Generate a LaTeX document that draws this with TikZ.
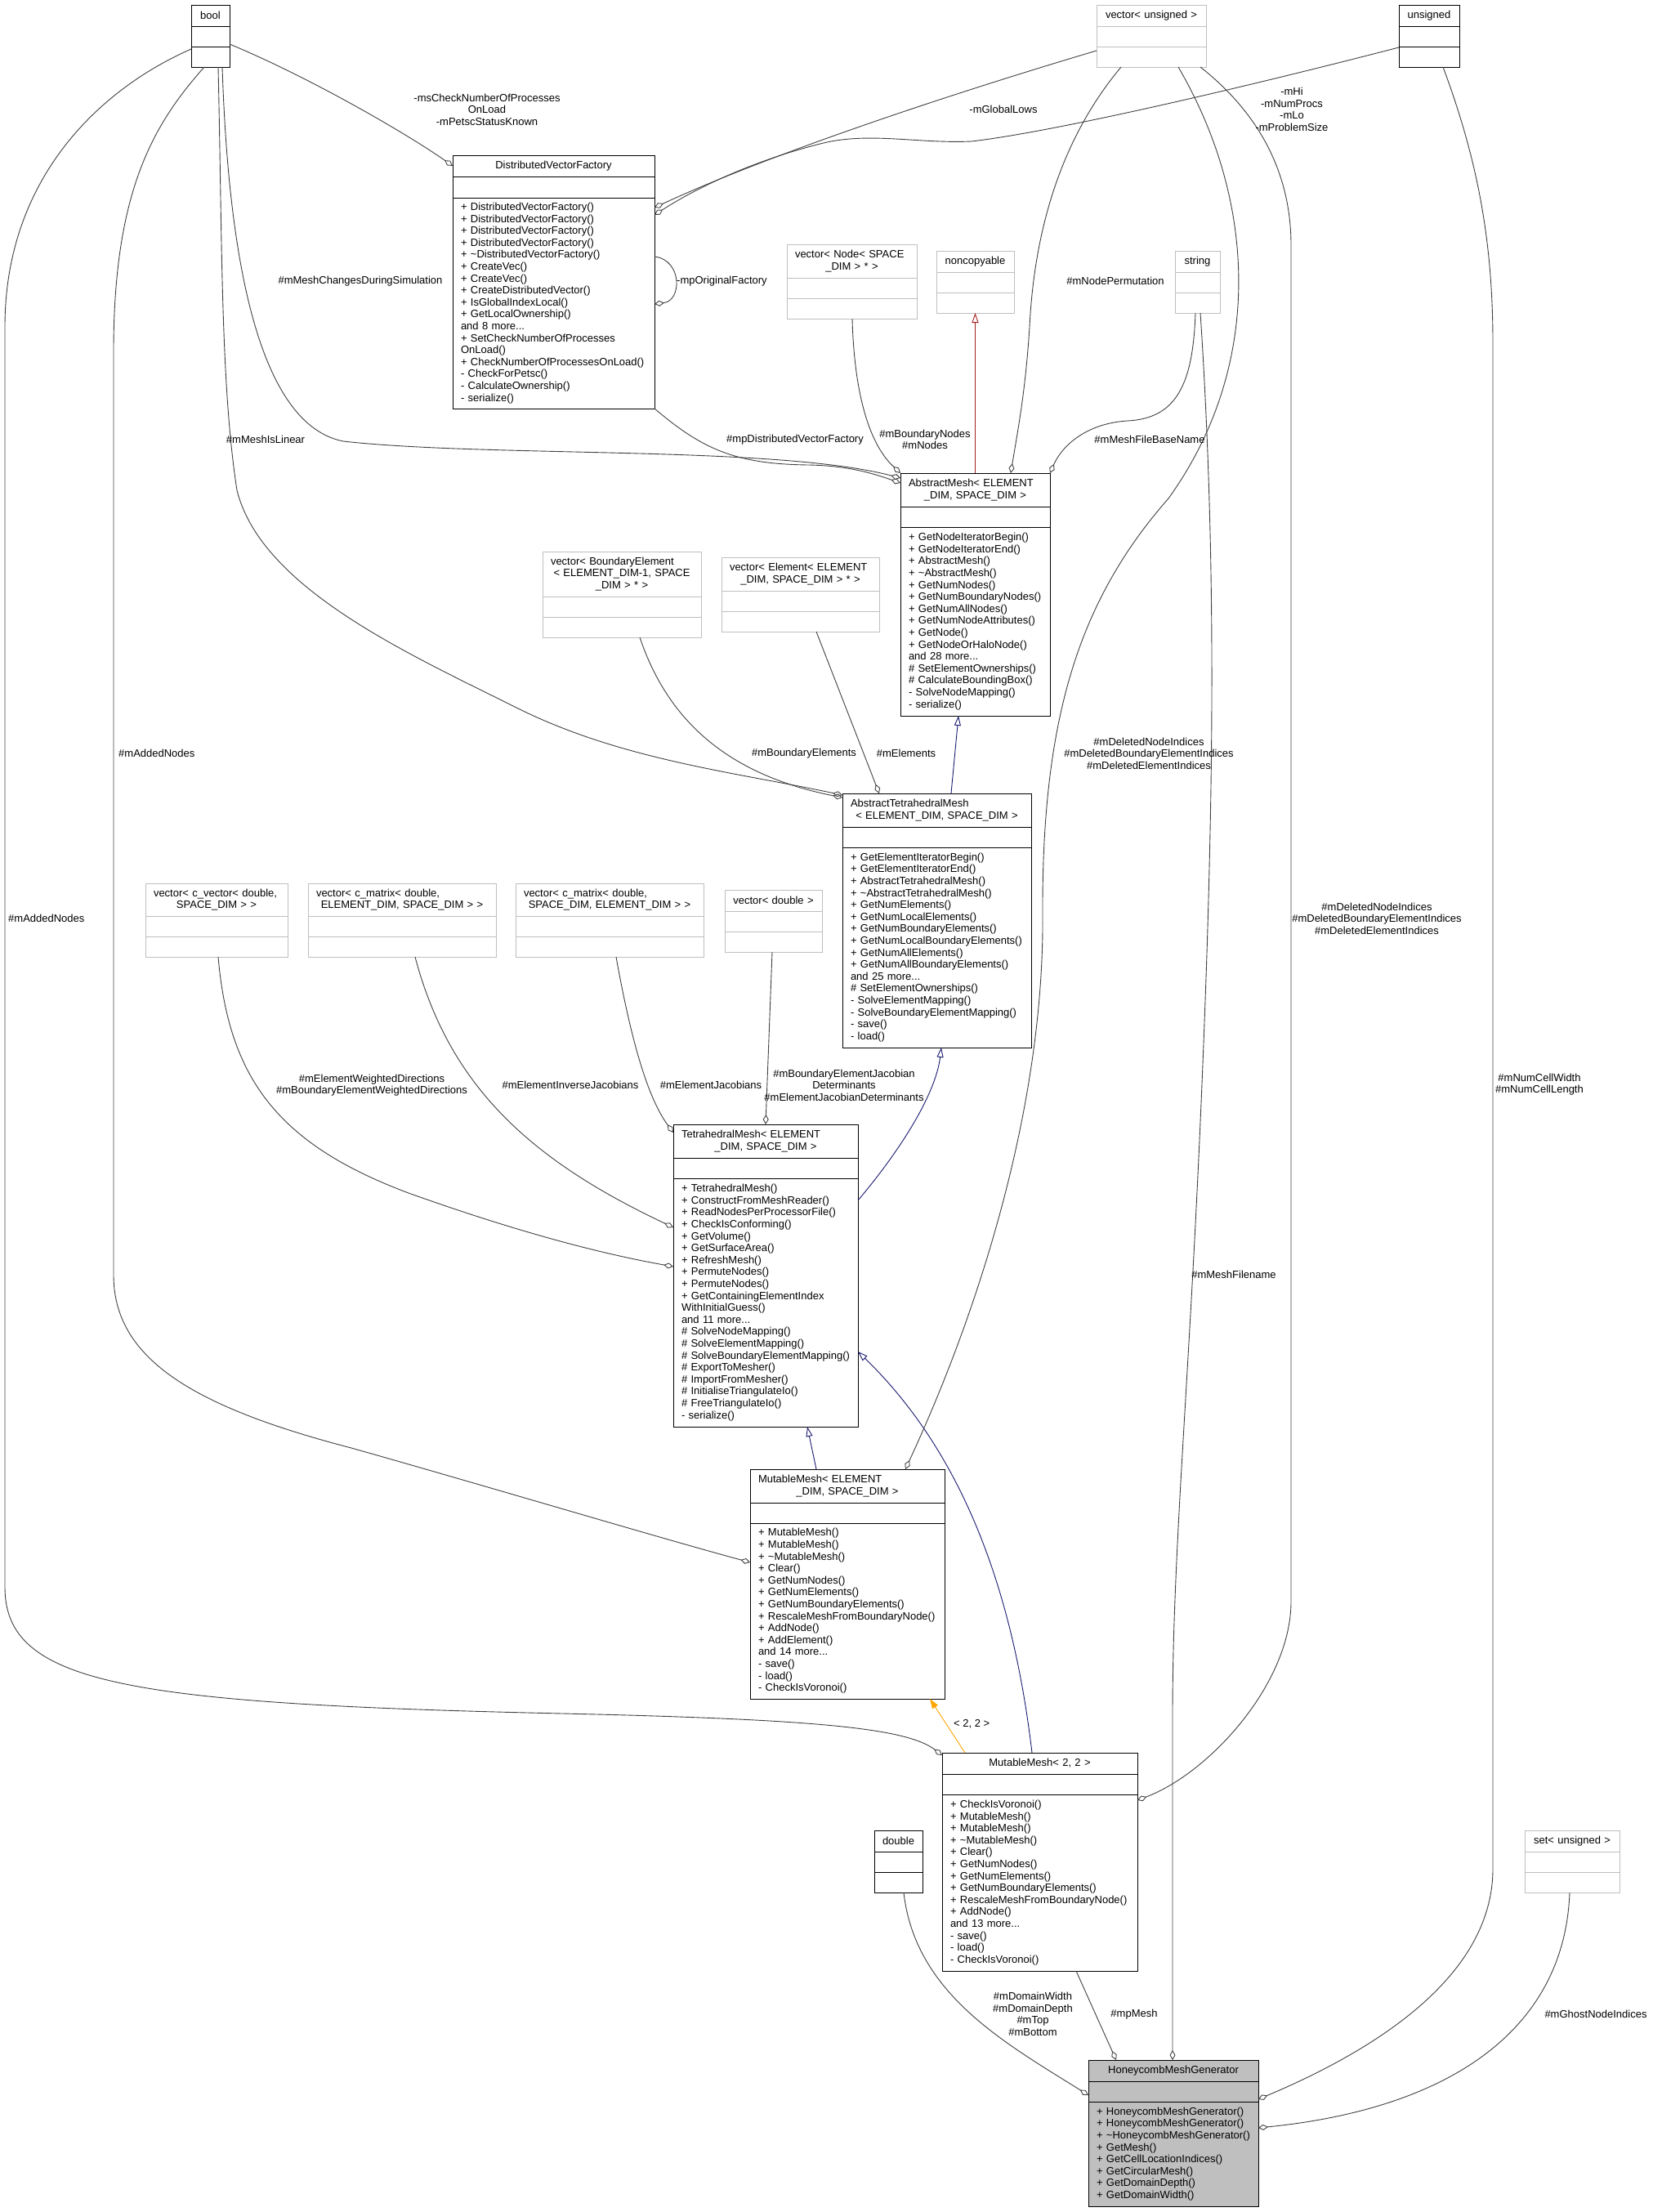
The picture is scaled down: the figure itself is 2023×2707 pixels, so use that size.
\documentclass[tikz,border=0pt]{standalone}
\usepackage{fontspec}
\setmainfont{Liberation Sans}
\usetikzlibrary{arrows.meta,positioning,calc}
\definecolor{clsgray}{RGB}{191,191,191}
\definecolor{edgegray}{RGB}{64,64,64}
\definecolor{midnightblue}{RGB}{25,25,112}
\definecolor{firebrick}{RGB}{165,30,30}
\definecolor{tmplorange}{RGB}{255,165,0}
\newcommand{\doxfont}{\fontsize{13}{14.6}\selectfont}
\newcommand{\firstline}[1]{\makebox[\hsize][l]{#1}}

\begin{document}
\begin{tikzpicture}[x=1pt, y=-1pt,
  cls/.style={draw=black, line width=1pt, inner xsep=10pt, inner ysep=0pt, outer sep=0pt, font=\doxfont, align=center},
  ext/.style={cls, draw=clsgray},
  mbr/.style={align=left},
  assoc/.style={draw=edgegray, line width=0.9pt, -{Diamond[open,length=12pt,width=7pt]}},
  pub/.style={draw=midnightblue, line width=0.9pt, -{Triangle[open,length=12pt,width=8pt]}},
  priv/.style={draw=firebrick, line width=0.9pt, -{Triangle[open,length=12pt,width=8pt]}},
  tmpl/.style={draw=tmplorange, line width=0.9pt, -{Triangle[length=12pt,width=8pt]}},
  lbl/.style={font=\doxfont, align=center, inner sep=0pt}]
  \useasboundingbox (0,0) rectangle (2023,2707);

  % plain types
  \node[cls, text width=27pt, minimum height=26pt, anchor=north west] (bool) at (234,6) {bool};
  \node[cls, text width=27pt, minimum height=25pt, below=0pt of bool] (bool-a) {};
  \node[cls, text width=27pt, minimum height=25pt, below=0pt of bool-a] (bool-m) {};
  \node[ext, text width=114pt, minimum height=26pt, anchor=north west] (vecu) at (1342,6) {vector< unsigned >};
  \node[ext, text width=114pt, minimum height=25pt, below=0pt of vecu] (vecu-a) {};
  \node[ext, text width=114pt, minimum height=25pt, below=0pt of vecu-a] (vecu-m) {};
  \node[cls, text width=54pt, minimum height=26pt, anchor=north west] (uns) at (1712,6) {unsigned};
  \node[cls, text width=54pt, minimum height=25pt, below=0pt of uns] (uns-a) {};
  \node[cls, text width=54pt, minimum height=25pt, below=0pt of uns-a] (uns-m) {};

  % DistributedVectorFactory
  \node[cls, text width=227pt, minimum height=26pt, anchor=north west] (dvf) at (554,190) {DistributedVectorFactory};
  \node[cls, text width=227pt, minimum height=26pt, below=0pt of dvf] (dvf-a) {};
  \node[cls, mbr, text width=227pt, minimum height=258pt, below=0pt of dvf-a] (dvf-m) {+~DistributedVectorFactory()\\+~DistributedVectorFactory()\\+~DistributedVectorFactory()\\+~DistributedVectorFactory()\\+~\textasciitilde DistributedVectorFactory()\\+~CreateVec()\\+~CreateVec()\\+~CreateDistributedVector()\\+~IsGlobalIndexLocal()\\+~GetLocalOwnership()\\and 8 more...\\+~SetCheckNumberOfProcesses\\OnLoad()\\+~CheckNumberOfProcessesOnLoad()\\-~CheckForPetsc()\\-~CalculateOwnership()\\-~serialize()};

  \node[ext, text width=139pt, minimum height=41pt, anchor=north west] (vecn) at (963,299) {\firstline{vector< Node< SPACE}\\\_DIM > * >};
  \node[ext, text width=139pt, minimum height=25pt, below=0pt of vecn] (vecn-a) {};
  \node[ext, text width=139pt, minimum height=25pt, below=0pt of vecn-a] (vecn-m) {};
  \node[ext, text width=75pt, minimum height=26pt, anchor=north west] (nonc) at (1146,307) {noncopyable};
  \node[ext, text width=75pt, minimum height=25pt, below=0pt of nonc] (nonc-a) {};
  \node[ext, text width=75pt, minimum height=25pt, below=0pt of nonc-a] (nonc-m) {};
  \node[ext, text width=35pt, minimum height=26pt, anchor=north west] (str) at (1438,307) {string};
  \node[ext, text width=35pt, minimum height=25pt, below=0pt of str] (str-a) {};
  \node[ext, text width=35pt, minimum height=25pt, below=0pt of str-a] (str-m) {};

  % AbstractMesh
  \node[cls, text width=163pt, minimum height=41pt, anchor=north west] (am) at (1102,579) {\firstline{AbstractMesh< ELEMENT}\\\_DIM, SPACE\_DIM >};
  \node[cls, text width=163pt, minimum height=25pt, below=0pt of am] (am-a) {};
  \node[cls, mbr, text width=163pt, minimum height=231pt, below=0pt of am-a] (am-m) {+~GetNodeIteratorBegin()\\+~GetNodeIteratorEnd()\\+~AbstractMesh()\\+~\textasciitilde AbstractMesh()\\+~GetNumNodes()\\+~GetNumBoundaryNodes()\\+~GetNumAllNodes()\\+~GetNumNodeAttributes()\\+~GetNode()\\+~GetNodeOrHaloNode()\\and 28 more...\\\#~SetElementOwnerships()\\\#~CalculateBoundingBox()\\-~SolveNodeMapping()\\-~serialize()};

  \node[ext, text width=174pt, minimum height=55pt, anchor=north west] (vecbe) at (664,675) {\firstline{vector< BoundaryElement}\\< ELEMENT\_DIM-1, SPACE\\\_DIM > * >};
  \node[ext, text width=174pt, minimum height=25pt, below=0pt of vecbe] (vecbe-a) {};
  \node[ext, text width=174pt, minimum height=25pt, below=0pt of vecbe-a] (vecbe-m) {};
  \node[ext, text width=173pt, minimum height=41pt, anchor=north west] (vece) at (883,682) {\firstline{vector< Element< ELEMENT}\\\_DIM, SPACE\_DIM > * >};
  \node[ext, text width=173pt, minimum height=25pt, below=0pt of vece] (vece-a) {};
  \node[ext, text width=173pt, minimum height=25pt, below=0pt of vece-a] (vece-m) {};

  % AbstractTetrahedralMesh
  \node[cls, text width=211pt, minimum height=41pt, anchor=north west] (atm) at (1031,971) {\firstline{AbstractTetrahedralMesh}\\< ELEMENT\_DIM, SPACE\_DIM >};
  \node[cls, text width=211pt, minimum height=25pt, below=0pt of atm] (atm-a) {};
  \node[cls, mbr, text width=211pt, minimum height=245pt, below=0pt of atm-a] (atm-m) {+~GetElementIteratorBegin()\\+~GetElementIteratorEnd()\\+~AbstractTetrahedralMesh()\\+~\textasciitilde AbstractTetrahedralMesh()\\+~GetNumElements()\\+~GetNumLocalElements()\\+~GetNumBoundaryElements()\\+~GetNumLocalBoundaryElements()\\+~GetNumAllElements()\\+~GetNumAllBoundaryElements()\\and 25 more...\\\#~SetElementOwnerships()\\-~SolveElementMapping()\\-~SolveBoundaryElementMapping()\\-~save()\\-~load()};

  \node[ext, text width=154pt, minimum height=40pt, anchor=north west] (veccv) at (178,1081) {\firstline{vector< c\_vector< double,}\\SPACE\_DIM > >};
  \node[ext, text width=154pt, minimum height=25pt, below=0pt of veccv] (veccv-a) {};
  \node[ext, text width=154pt, minimum height=25pt, below=0pt of veccv-a] (veccv-m) {};
  \node[ext, text width=210pt, minimum height=40pt, anchor=north west] (vecmes) at (377,1081) {\firstline{vector< c\_matrix< double,}\\ELEMENT\_DIM, SPACE\_DIM > >};
  \node[ext, text width=210pt, minimum height=25pt, below=0pt of vecmes] (vecmes-a) {};
  \node[ext, text width=210pt, minimum height=25pt, below=0pt of vecmes-a] (vecmes-m) {};
  \node[ext, text width=210pt, minimum height=40pt, anchor=north west] (vecmse) at (631,1081) {\firstline{vector< c\_matrix< double,}\\SPACE\_DIM, ELEMENT\_DIM > >};
  \node[ext, text width=210pt, minimum height=25pt, below=0pt of vecmse] (vecmse-a) {};
  \node[ext, text width=210pt, minimum height=25pt, below=0pt of vecmse-a] (vecmse-m) {};
  \node[ext, text width=99pt, minimum height=26pt, anchor=north west] (vecd) at (887,1089) {vector< double >};
  \node[ext, text width=99pt, minimum height=25pt, below=0pt of vecd] (vecd-a) {};
  \node[ext, text width=99pt, minimum height=25pt, below=0pt of vecd-a] (vecd-m) {};

  % TetrahedralMesh
  \node[cls, text width=206pt, minimum height=41pt, anchor=north west] (tm) at (824,1376) {\firstline{TetrahedralMesh< ELEMENT}\\\_DIM, SPACE\_DIM >};
  \node[cls, text width=206pt, minimum height=25pt, below=0pt of tm] (tm-a) {};
  \node[cls, mbr, text width=206pt, minimum height=304pt, below=0pt of tm-a] (tm-m) {+~TetrahedralMesh()\\+~ConstructFromMeshReader()\\+~ReadNodesPerProcessorFile()\\+~CheckIsConforming()\\+~GetVolume()\\+~GetSurfaceArea()\\+~RefreshMesh()\\+~PermuteNodes()\\+~PermuteNodes()\\+~GetContainingElementIndex\\WithInitialGuess()\\and 11 more...\\\#~SolveNodeMapping()\\\#~SolveElementMapping()\\\#~SolveBoundaryElementMapping()\\\#~ExportToMesher()\\\#~ImportFromMesher()\\\#~InitialiseTriangulateIo()\\\#~FreeTriangulateIo()\\-~serialize()};

  % MutableMesh
  \node[cls, text width=218pt, minimum height=41pt, anchor=north west] (mm) at (918,1798) {\firstline{MutableMesh< ELEMENT}\\\_DIM, SPACE\_DIM >};
  \node[cls, text width=218pt, minimum height=25pt, below=0pt of mm] (mm-a) {};
  \node[cls, mbr, text width=218pt, minimum height=215pt, below=0pt of mm-a] (mm-m) {+~MutableMesh()\\+~MutableMesh()\\+~\textasciitilde MutableMesh()\\+~Clear()\\+~GetNumNodes()\\+~GetNumElements()\\+~GetNumBoundaryElements()\\+~RescaleMeshFromBoundaryNode()\\+~AddNode()\\+~AddElement()\\and 14 more...\\-~save()\\-~load()\\-~CheckIsVoronoi()};

  \node[cls, text width=219pt, minimum height=26pt, anchor=north west] (mm22) at (1153,2145) {MutableMesh< 2, 2 >};
  \node[cls, text width=219pt, minimum height=25pt, below=0pt of mm22] (mm22-a) {};
  \node[cls, mbr, text width=219pt, minimum height=216pt, below=0pt of mm22-a] (mm22-m) {+~CheckIsVoronoi()\\+~MutableMesh()\\+~MutableMesh()\\+~\textasciitilde MutableMesh()\\+~Clear()\\+~GetNumNodes()\\+~GetNumElements()\\+~GetNumBoundaryElements()\\+~RescaleMeshFromBoundaryNode()\\+~AddNode()\\and 13 more...\\-~save()\\-~load()\\-~CheckIsVoronoi()};

  \node[cls, text width=39pt, minimum height=26pt, anchor=north west] (dbl) at (1070,2240) {double};
  \node[cls, text width=39pt, minimum height=25pt, below=0pt of dbl] (dbl-a) {};
  \node[cls, text width=39pt, minimum height=25pt, below=0pt of dbl-a] (dbl-m) {};
  \node[ext, text width=96pt, minimum height=26pt, anchor=north west] (setu) at (1866,2240) {set< unsigned >};
  \node[ext, text width=96pt, minimum height=25pt, below=0pt of setu] (setu-a) {};
  \node[ext, text width=96pt, minimum height=25pt, below=0pt of setu-a] (setu-m) {};

  % HoneycombMeshGenerator
  \node[cls, fill=clsgray, text width=188pt, minimum height=26pt, anchor=north west] (hmg) at (1332,2521) {HoneycombMeshGenerator};
  \node[cls, fill=clsgray, text width=188pt, minimum height=25pt, below=0pt of hmg] (hmg-a) {};
  \node[cls, fill=clsgray, mbr, text width=188pt, minimum height=128pt, below=0pt of hmg-a] (hmg-m) {+~HoneycombMeshGenerator()\\+~HoneycombMeshGenerator()\\+~\textasciitilde HoneycombMeshGenerator()\\+~GetMesh()\\+~GetCellLocationIndices()\\+~GetCircularMesh()\\+~GetDomainDepth()\\+~GetDomainWidth()};

  % member links
  \draw[assoc] ($(bool-a.south east)+(0,-3)$) .. controls (380,95) and (500,165) .. (dvf.west);
  \draw[assoc] ($(vecu-m.north west)+(0,5)$) .. controls (1180,110) and (950,185) .. ($(dvf-m.north east)+(0,12)$);
  \draw[assoc] ($(uns-m.north west)+(0,1)$) .. controls (1550,100) and (1300,160) .. (1189,173) .. controls (1120,176) and (1060,160) .. (1000,177) .. controls (930,195) and (860,225) .. ($(dvf-m.north east)+(0,21)$);
  \draw[assoc] ($(dvf-m.north east)+(0,72)$) .. controls (835,318) and (835,368) .. ($(dvf-m.north east)+(0,130)$);
  \draw[assoc] ($(bool-m.south west)+(38,0)$) .. controls (280,330) and (320,520) .. (420,540) .. controls (600,560) and (950,545) .. ($(am.north west)+(0,6)$);
  \draw[assoc] (dvf-m.south east) .. controls (860,550) and (900,568) .. (990,569) .. controls (1040,570) and (1070,580) .. ($(am.north west)+(0,12)$);
  \draw[assoc] ($(vecn-m.south west)+(80,0)$) .. controls (1045,470) and (1060,540) .. (am.north west);
  \draw[assoc] ($(vecu-m.south west)+(30,0)$) .. controls (1290,180) and (1265,300) .. (1260,400) .. controls (1255,480) and (1245,530) .. ($(am.north west)+(135,0)$);
  \draw[assoc] ($(str-m.south west)+(25,0)$) .. controls (1460,470) and (1440,512) .. (1380,515) .. controls (1330,518) and (1300,545) .. (am.north east);
  \draw[assoc] ($(vecu-m.south west)+(100,0)$) .. controls (1540,250) and (1545,450) .. (1430,610) .. controls (1320,735) and (1275,880) .. (1276,1119) .. controls (1278,1350) and (1200,1600) .. ($(mm.north east)+(-48,0)$);
  \draw[assoc] ($(vecu-m.south east)+(-7,0)$) .. controls (1530,130) and (1580,200) .. (1580,300) -- (1580,1960) .. controls (1580,2060) and (1480,2170) .. ($(mm22-m.north east)+(0,7)$);
  \draw[assoc] ($(uns-m.south west)+(54,0)$) .. controls (1810,200) and (1827,300) .. (1827,420) -- (1827,2287) .. controls (1827,2420) and (1680,2510) .. ($(hmg-a.north east)+(0,22)$);
  \draw[assoc] ($(str-m.south west)+(31,0)$) .. controls (1490,700) and (1485,1000) .. (1470,1350) .. controls (1455,1700) and (1435,1900) .. (1435,2100) -- ($(hmg.north west)+(103,0)$);
  \draw[assoc] ($(dbl-m.south west)+(36,0)$) .. controls (1120,2440) and (1230,2500) .. ($(hmg-a.north west)+(0,17)$);
  \draw[assoc] ($(mm22-m.south west)+(164,0)$) -- ($(hmg.north west)+(34,0)$);
  \draw[assoc] ($(setu-m.south west)+(55,0)$) .. controls (1915,2480) and (1780,2580) .. ($(hmg-m.north east)+(0,32)$);
  \draw[assoc] ($(bool-m.south west)+(16,0)$) .. controls (190,150) and (139,230) .. (139,430) -- (139,1560) .. controls (139,1660) and (230,1720) .. (430,1772) .. controls (600,1820) and (800,1880) .. ($(mm-m.north west)+(0,48)$);
  \draw[assoc] ($(bool-m.north west)+(0,3)$) .. controls (120,110) and (6,220) .. (6,400) -- (6,1942) .. controls (6,2060) and (150,2085) .. (689,2097) .. controls (1000,2104) and (1110,2115) .. ($(mm22.north west)+(0,3)$);
  \draw[assoc] ($(vecbe-m.south west)+(119,0)$) .. controls (820,890) and (900,950) .. ($(atm.north west)+(0,5)$);
  \draw[assoc] ($(bool-m.south west)+(33,0)$) .. controls (272,300) and (270,470) .. (290,600) .. controls (320,720) and (500,800) .. (632,866) .. controls (760,930) and (900,945) .. ($(atm.north west)+(0,2)$);
  \draw[assoc] ($(vece-m.south west)+(116,0)$) -- ($(atm.north west)+(45,0)$);
  \draw[assoc] ($(veccv-m.south west)+(89,0)$) .. controls (280,1320) and (340,1400) .. (500,1460) .. controls (640,1510) and (740,1535) .. ($(tm-m.north west)+(0,108)$);
  \draw[assoc] ($(vecmes-m.south west)+(131,0)$) .. controls (550,1330) and (650,1420) .. ($(tm-m.north west)+(0,60)$);
  \draw[assoc] ($(vecmse-m.south west)+(123,0)$) .. controls (770,1260) and (790,1340) .. ($(tm.north west)+(0,10)$);
  \draw[assoc] ($(vecd-m.south west)+(58,0)$) -- ($(tm.north west)+(113,0)$);

  % inheritance
  \draw[priv] (am.north) -- (nonc-m.south);
  \draw[pub] ($(atm.north west)+(133,0)$) -- ($(am-m.south west)+(71,0)$);
  \draw[pub] ($(tm-m.north east)+(0,27)$) .. controls (1100,1410) and (1145,1340) .. ($(atm-m.south west)+(121,0)$);
  \draw[pub] ($(mm.north west)+(81,0)$) -- ($(tm-m.south west)+(164,0)$);
  \draw[pub] ($(mm22.north west)+(110,0)$) .. controls (1240,1950) and (1180,1780) .. ($(tm-m.north east)+(0,212)$);
  \draw[tmpl] ($(mm22.north west)+(28,0)$) -- ($(mm-m.south west)+(220,0)$);

  % edge labels
  \node[lbl] (l-petsc) at (596,134) {-msCheckNumberOfProcesses\\OnLoad\\-mPetscStatusKnown};
  \node[lbl] (l-lows) at (1228,134) {-mGlobalLows};
  \node[lbl] (l-hilo) at (1581,134) {-mHi\\-mNumProcs\\-mLo\\-mProblemSize};
  \node[lbl, anchor=west] (l-orig) at (828,344) {-mpOriginalFactory};
  \node[lbl] (l-changes) at (441,344) {\#mMeshChangesDuringSimulation};
  \node[lbl] (l-linear) at (325,538) {\#mMeshIsLinear};
  \node[lbl] (l-dvf) at (973,538) {\#mpDistributedVectorFactory};
  \node[lbl] (l-nodes) at (1132,538) {\#mBoundaryNodes\\\#mNodes};
  \node[lbl] (l-perm) at (1365,344) {\#mNodePermutation};
  \node[lbl] (l-base) at (1407,538) {\#mMeshFileBaseName};
  \node[lbl] (l-del1) at (1406,922) {\#mDeletedNodeIndices\\\#mDeletedBoundaryElementIndices\\\#mDeletedElementIndices};
  \node[lbl] (l-del2) at (1685,1124) {\#mDeletedNodeIndices\\\#mDeletedBoundaryElementIndices\\\#mDeletedElementIndices};
  \node[lbl] (l-cells) at (1884,1327) {\#mNumCellWidth\\\#mNumCellLength};
  \node[lbl] (l-file) at (1510,1560) {\#mMeshFilename};
  \node[lbl] (l-domain) at (1264,2465) {\#mDomainWidth\\\#mDomainDepth\\\#mTop\\\#mBottom};
  \node[lbl] (l-mesh) at (1388,2465) {\#mpMesh};
  \node[lbl] (l-ghost) at (1953,2465) {\#mGhostNodeIndices};
  \node[lbl, anchor=west] (l-added1) at (145,922) {\#mAddedNodes};
  \node[lbl, anchor=west] (l-added2) at (10,1124) {\#mAddedNodes};
  \node[lbl] (l-belems) at (984,922) {\#mBoundaryElements};
  \node[lbl] (l-elems) at (1109,922) {\#mElements};
  \node[lbl] (l-weight) at (455,1328) {\#mElementWeightedDirections\\\#mBoundaryElementWeightedDirections};
  \node[lbl] (l-inv) at (698,1328) {\#mElementInverseJacobians};
  \node[lbl] (l-jac) at (870,1328) {\#mElementJacobians};
  \node[lbl] (l-det) at (1033,1328) {\#mBoundaryElementJacobian\\Determinants\\\#mElementJacobianDeterminants};
  \node[lbl, anchor=west] (l-tmpl) at (1167,2110) {< 2, 2 >};
\end{tikzpicture}
\end{document}
